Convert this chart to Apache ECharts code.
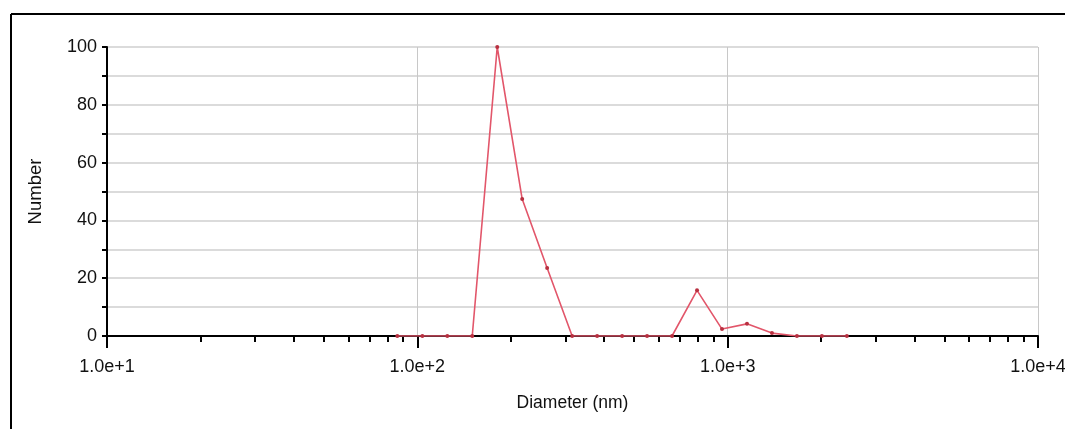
<!DOCTYPE html>
<html>
<head>
<meta charset="utf-8">
<script src="https://cdn.jsdelivr.net/npm/echarts@6/dist/echarts.min.js"></script>
<style>
html,body{margin:0;padding:0;background:#fff;}
#c{width:1065px;height:429px;}
</style>
</head>
<body>
<div id="c"></div>
<script>
// Data
var diameters = [86.2, 103.8, 124.9, 150.3, 180.9, 217.7, 262.0, 315.4, 379.6, 456.9, 549.9, 661.8, 796.6, 958.8, 1154, 1389, 1672, 2012, 2422];
var numbers   = [0, 0, 0, 0, 100, 47.4, 23.5, 0, 0, 0, 0, 0, 15.8, 2.4, 4.2, 1.0, 0, 0, 0];
var xMajorTicks = [10, 100, 1000, 10000];
var xMinorTicks = [20,30,40,50,60,70,80,90,200,300,400,500,600,700,800,900,2000,3000,4000,5000,6000,7000,8000,9000];
var yTicks = [0, 20, 40, 60, 80, 100];

var FONT = '"Liberation Sans Narrow", "Liberation Sans", Arial, sans-serif';
var chart = echarts.init(document.getElementById('c'), null, {renderer: 'canvas'});
var pts = diameters.map(function (d, i) { return [d, numbers[i]]; });

chart.setOption({
  animation: false,
  backgroundColor: '#ffffff',
  grid: {left: 107, right: 27, top: 47, bottom: 93, containLabel: false, outerBoundsMode: 'none'},
  graphic: [
    {type: 'line', shape: {x1: 11, y1: 14, x2: 1065, y2: 14}, style: {stroke: '#000', lineWidth: 2}, z: 100},
    {type: 'line', shape: {x1: 11, y1: 14, x2: 11, y2: 429}, style: {stroke: '#000', lineWidth: 2}, z: 100}
  ],
  xAxis: [{
    type: 'log', logBase: 10, min: 10, max: 10000,
    name: 'Diameter (nm)', nameLocation: 'middle', nameGap: 58,
    nameTextStyle: {fontFamily: FONT, fontSize: 17.5, color: '#111'},
    axisLine: {onZero: false, lineStyle: {color: '#000', width: 2}},
    axisTick: {show: true, length: 12, customValues: xMajorTicks, lineStyle: {color: '#000', width: 2}},
    axisLabel: {customValues: xMajorTicks, margin: 22, fontFamily: FONT, fontSize: 18, color: '#111',
      formatter: function (v) { return Number(v).toExponential(1); }},
    splitLine: {show: true, lineStyle: {color: '#c8c8c8', width: 1}},
    minorTick: {show: false}
  }, {
    type: 'log', logBase: 10, min: 10, max: 10000, position: 'bottom', offset: 0,
    axisLine: {show: false},
    axisTick: {show: true, length: 6, customValues: xMinorTicks, lineStyle: {color: '#000', width: 2}},
    axisLabel: {show: false},
    splitLine: {show: false}
  }],
  yAxis: {
    type: 'value', min: 0, max: 100, interval: 10,
    name: 'Number', nameLocation: 'middle', nameGap: 62,
    nameTextStyle: {fontFamily: FONT, fontSize: 18.5, color: '#111'},
    axisLine: {show: true, lineStyle: {color: '#000', width: 2}},
    axisTick: {show: true, length: 5, lineStyle: {color: '#000', width: 2}},
    axisLabel: {margin: 10, fontFamily: FONT, fontSize: 18, color: '#111',
      formatter: function (v) { return yTicks.indexOf(v) >= 0 ? String(v) : ''; }},
    splitLine: {show: true, lineStyle: {color: '#cfcfcf', width: 1.5}}
  },
  series: [{
    type: 'line', xAxisIndex: 0, data: pts,
    lineStyle: {color: '#e2566a', width: 1.6},
    itemStyle: {color: '#b83040'},
    symbol: 'circle', symbolSize: 4, showSymbol: true,
    z: 5
  }]
});
</script>
</body>
</html>
